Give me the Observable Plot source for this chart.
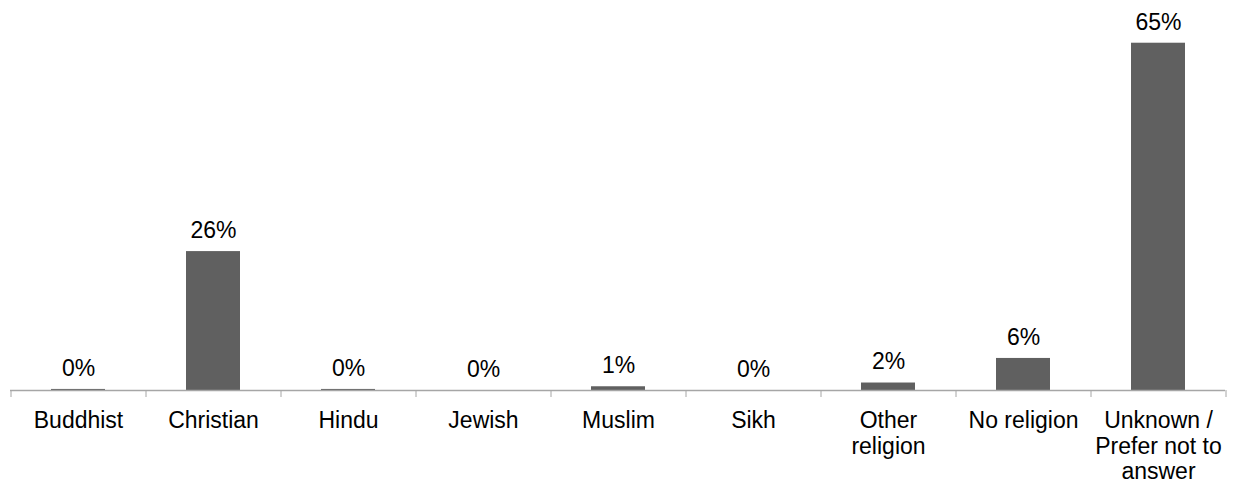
<!DOCTYPE html>
<html>
<head>
<meta charset="utf-8">
<script src="https://cdn.jsdelivr.net/npm/d3@7"></script>
<script src="https://cdn.jsdelivr.net/npm/@observablehq/plot@0.6"></script>
<style>
  html, body { margin: 0; padding: 0; background: #fff; }
  #chart svg { display: block; }
</style>
</head>
<body>
<div id="chart"></div>
<script>
const categories = ["Buddhist", "Christian", "Hindu", "Jewish", "Muslim", "Sikh", "Other religion", "No religion", "Unknown / Prefer not to answer"];
const tickLabels = ["Buddhist", "Christian", "Hindu", "Jewish", "Muslim", "Sikh", "Other\nreligion", "No religion", "Unknown /\nPrefer not to\nanswer"];
const values = [0.2, 26, 0.2, 0, 0.7, 0, 1.4, 6, 65];
const valueLabels = ["0%", "26%", "0%", "0%", "1%", "0%", "2%", "6%", "65%"];

const data = categories.map((c, i) => ({cat: c, value: values[i], label: valueLabels[i], tick: tickLabels[i]}));
const tickMap = new Map(data.map(d => [d.cat, d.tick]));

const W = 1233, H = 487;
const mL = 10, mR = 8, mT = 16, mB = 97;
const band = (W - mL - mR) / categories.length;

const chart = Plot.plot({
  width: W,
  height: H,
  marginLeft: mL,
  marginRight: mR,
  marginTop: mT,
  marginBottom: mB,
  style: {fontFamily: "'Liberation Sans', Arial, sans-serif", fontSize: "23px", color: "#000", background: "#fff"},
  x: {domain: categories, paddingInner: 0.6, paddingOuter: 0.3, align: 0.5},
  y: {domain: [0, 70], axis: null},
  marks: [
    Plot.barY(data, {x: "cat", y: "value", fill: "#606060"}),
    Plot.ruleY([0], {stroke: "#a6a6a6", strokeWidth: 1.3}),
    // boundary ticks between categories
    Plot.axisX({tickSize: 7, tickFormat: () => "", dx: -band / 2, stroke: "#a6a6a6", label: null}),
    Plot.axisX({ticks: [categories[categories.length - 1]], tickSize: 7, tickFormat: () => "", dx: band / 2, stroke: "#a6a6a6", label: null}),
    // category labels
    Plot.axisX({tickSize: 0, tickPadding: 19, tickFormat: d => tickMap.get(d), fontSize: 23, lineHeight: 1.12, fill: "#000", label: null}),
    Plot.text(data, {x: "cat", y: "value", text: "label", dy: -21, fontSize: 23, fill: "#000"})
  ]
});
document.getElementById("chart").append(chart);
</script>
</body>
</html>
